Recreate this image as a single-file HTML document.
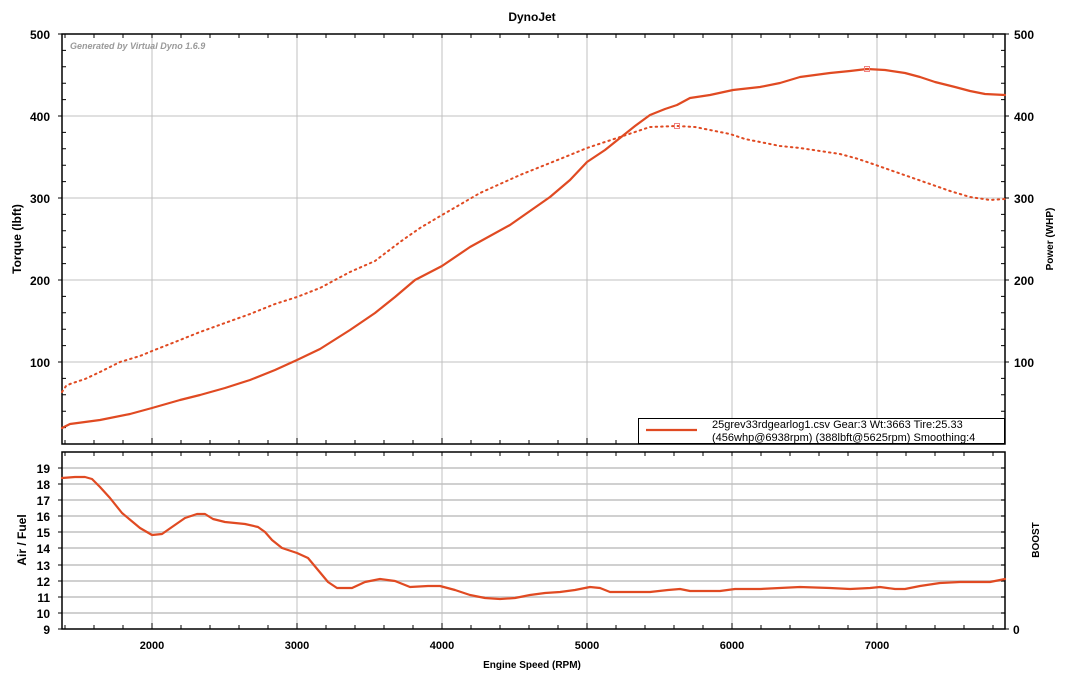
<!DOCTYPE html>
<html><head><meta charset="utf-8"><style>
body{margin:0;background:#fff;}
svg{display:block;font-family:"Liberation Sans",Arial,sans-serif;}
</style></head><body>
<svg width="1065" height="678" xmlns="http://www.w3.org/2000/svg">
<rect width="1065" height="678" fill="#fff"/>
<text x="532" y="21" text-anchor="middle" font-size="12" font-weight="bold">DynoJet</text>
<g stroke="#c0c0c0" stroke-width="1">
<line x1="152" y1="34" x2="152" y2="444"/><line x1="297" y1="34" x2="297" y2="444"/>
<line x1="442" y1="34" x2="442" y2="444"/><line x1="587" y1="34" x2="587" y2="444"/>
<line x1="732" y1="34" x2="732" y2="444"/><line x1="877" y1="34" x2="877" y2="444"/>
<line x1="62" y1="116" x2="1005" y2="116"/><line x1="62" y1="198" x2="1005" y2="198"/>
<line x1="62" y1="280" x2="1005" y2="280"/><line x1="62" y1="362" x2="1005" y2="362"/>
</g>
<g stroke="#d0d0d0" stroke-width="2">
<line x1="62" y1="468" x2="1005" y2="468"/><line x1="62" y1="484" x2="1005" y2="484"/>
<line x1="62" y1="500" x2="1005" y2="500"/><line x1="62" y1="516" x2="1005" y2="516"/>
<line x1="62" y1="532" x2="1005" y2="532"/><line x1="62" y1="548" x2="1005" y2="548"/>
<line x1="62" y1="565" x2="1005" y2="565"/><line x1="62" y1="581" x2="1005" y2="581"/>
<line x1="62" y1="597" x2="1005" y2="597"/><line x1="62" y1="613" x2="1005" y2="613"/>
</g>
<g stroke="#c0c0c0" stroke-width="1">
<line x1="152" y1="452" x2="152" y2="629"/><line x1="297" y1="452" x2="297" y2="629"/>
<line x1="442" y1="452" x2="442" y2="629"/><line x1="587" y1="452" x2="587" y2="629"/>
<line x1="732" y1="452" x2="732" y2="629"/><line x1="877" y1="452" x2="877" y2="629"/>
</g>
<text x="70" y="49" font-size="9" font-style="italic" font-weight="bold" fill="#999">Generated by Virtual Dyno 1.6.9</text>
<g stroke="#000" stroke-width="1.5" fill="none">
<rect x="62" y="34" width="943" height="410"/>
<rect x="62" y="452" width="943" height="177"/>
</g>
<g stroke="#000" stroke-width="1">
<path d="M62 50.4h4M62 66.8h4M62 83.2h4M62 99.6h4M62 132.4h4M62 148.8h4M62 165.2h4M62 181.6h4M62 214.4h4M62 230.8h4M62 247.2h4M62 263.6h4M62 296.4h4M62 312.8h4M62 329.2h4M62 345.6h4M62 378.4h4M62 394.8h4M62 411.2h4M62 427.6h4"/>
<path d="M1005 50.4h-4M1005 66.8h-4M1005 83.2h-4M1005 99.6h-4M1005 132.4h-4M1005 148.8h-4M1005 165.2h-4M1005 181.6h-4M1005 214.4h-4M1005 230.8h-4M1005 247.2h-4M1005 263.6h-4M1005 296.4h-4M1005 312.8h-4M1005 329.2h-4M1005 345.6h-4M1005 378.4h-4M1005 394.8h-4M1005 411.2h-4M1005 427.6h-4"/>
<path d="M58 34h4M58 116h4M58 198h4M58 280h4M58 362h4M1005 34h4M1005 116h4M1005 198h4M1005 280h4M1005 362h4"/>
<path d="M58 468h4M58 484h4M58 500h4M58 516h4M58 532h4M58 548h4M58 565h4M58 581h4M58 597h4M58 613h4M58 629h4M1005 629h4"/>
<path d="M1005 468h-4M1005 484h-4M1005 500h-4M1005 516h-4M1005 532h-4M1005 548h-4M1005 565h-4M1005 581h-4M1005 597h-4M1005 613h-4"/>
<path d="M65 444v-4M94 444v-4M123 444v-4M152 444v-6M181 444v-4M210 444v-4M239 444v-4M268 444v-4M297 444v-6M326 444v-4M355 444v-4M384 444v-4M413 444v-4M442 444v-6M471 444v-4M500 444v-4M529 444v-4M558 444v-4M587 444v-6M616 444v-4M645 444v-4M674 444v-4M703 444v-4M732 444v-6M761 444v-4M790 444v-4M819 444v-4M848 444v-4M877 444v-6M906 444v-4M935 444v-4M964 444v-4M993 444v-4"/>
<path d="M65 34v4M94 34v4M123 34v4M152 34v4M181 34v4M210 34v4M239 34v4M268 34v4M297 34v4M326 34v4M355 34v4M384 34v4M413 34v4M442 34v4M471 34v4M500 34v4M529 34v4M558 34v4M587 34v4M616 34v4M645 34v4M674 34v4M703 34v4M732 34v4M761 34v4M790 34v4M819 34v4M848 34v4M877 34v4M906 34v4M935 34v4M964 34v4M993 34v4"/>
<path d="M65 629v-4M94 629v-4M123 629v-4M152 629v-6M181 629v-4M210 629v-4M239 629v-4M268 629v-4M297 629v-6M326 629v-4M355 629v-4M384 629v-4M413 629v-4M442 629v-6M471 629v-4M500 629v-4M529 629v-4M558 629v-4M587 629v-6M616 629v-4M645 629v-4M674 629v-4M703 629v-4M732 629v-6M761 629v-4M790 629v-4M819 629v-4M848 629v-4M877 629v-6M906 629v-4M935 629v-4M964 629v-4M993 629v-4"/>
<path d="M65 452v4M94 452v4M123 452v4M152 452v4M181 452v4M210 452v4M239 452v4M268 452v4M297 452v4M326 452v4M355 452v4M384 452v4M413 452v4M442 452v4M471 452v4M500 452v4M529 452v4M558 452v4M587 452v4M616 452v4M645 452v4M674 452v4M703 452v4M732 452v4M761 452v4M790 452v4M819 452v4M848 452v4M877 452v4M906 452v4M935 452v4M964 452v4M993 452v4"/>
</g>
<g font-size="12" font-weight="bold" text-anchor="end">
<text x="50" y="39">500</text><text x="50" y="121">400</text><text x="50" y="203">300</text><text x="50" y="285">200</text><text x="50" y="367">100</text>
</g>
<g font-size="12" font-weight="bold" text-anchor="start">
<text x="1014" y="39">500</text><text x="1014" y="121">400</text><text x="1014" y="203">300</text><text x="1014" y="285">200</text><text x="1014" y="367">100</text>
<text x="1013" y="634">0</text>
</g>
<g font-size="12" font-weight="bold" text-anchor="end">
<text x="50" y="473">19</text><text x="50" y="489">18</text><text x="50" y="505">17</text><text x="50" y="521">16</text><text x="50" y="537">15</text><text x="50" y="553">14</text><text x="50" y="570">13</text><text x="50" y="586">12</text><text x="50" y="602">11</text><text x="50" y="618">10</text><text x="50" y="634">9</text>
</g>
<g font-size="11" font-weight="bold" text-anchor="middle">
<text x="152" y="649">2000</text><text x="297" y="649">3000</text><text x="442" y="649">4000</text><text x="587" y="649">5000</text><text x="732" y="649">6000</text><text x="877" y="649">7000</text>
<text x="532" y="668" font-size="10">Engine Speed (RPM)</text>
</g>
<text transform="translate(21,239) rotate(-90)" text-anchor="middle" font-size="12" font-weight="bold">Torque (lbft)</text>
<text transform="translate(26,540) rotate(-90)" text-anchor="middle" font-size="12" font-weight="bold">Air / Fuel</text>
<text transform="translate(1053,239) rotate(-90)" text-anchor="middle" font-size="10" font-weight="bold">Power (WHP)</text>
<text transform="translate(1039,540) rotate(-90)" text-anchor="middle" font-size="10" font-weight="bold">BOOST</text>
<g fill="none" stroke="#e04a22" stroke-linejoin="round" stroke-linecap="round">
<polyline stroke-width="2.2" points="62,428 66,426 70,424 100,420 130,414 152,408 180,400 200,395 225,388 250,380 275,370 297,360 320,349 350,330 375,313 395,297 415,280 442,266 470,247 510,225 550,197 570,180 587,162 605,150 620,138 635,126 650,115 665,109 677,105 690,98 710,95 733,90 760,87 780,83 800,77 830,73 850,71 867,69 885,70 905,73 920,77 935,82 955,87 970,91 985,94 1005,95"/>
<polyline stroke-width="2" stroke-dasharray="1.5,4" points="62,392 66,386 70,384 85,379 100,372 120,362 140,356 152,351 175,342 200,332 225,323 250,314 275,304 297,297 320,288 350,272 375,261 400,242 420,228 442,215 480,193 520,175 560,159 587,148 620,137 650,127 677,126 695,127 715,131 730,134 745,139 760,142 780,146 800,148 820,151 840,154 855,158 870,163 890,170 910,177 930,184 950,191 970,197 990,200 1005,199"/>
<polyline stroke-width="2.2" points="62,478 75,477 85,477 92,479 100,487 110,498 122,513 140,528 152,535 162,534 172,527 185,518 197,514 205,514 213,519 225,522 245,524 258,527 265,532 272,540 282,548 297,553 308,558 318,570 328,582 337,588 352,588 365,582 380,579 395,581 410,587 428,586 440,586 455,590 470,595 485,598 500,599 515,598 530,595 545,593 560,592 575,590 590,587 600,588 610,592 625,592 650,592 668,590 680,589 690,591 720,591 735,589 760,589 800,587 830,588 850,589 870,588 880,587 895,589 905,589 920,586 940,583 960,582 990,582 1005,579"/>
</g>
<rect x="674.5" y="123.5" width="5" height="5" fill="none" stroke="#f08080" stroke-width="1"/>
<rect x="864.5" y="66.5" width="5" height="5" fill="none" stroke="#f08080" stroke-width="1"/>
<rect x="638.5" y="418.5" width="366" height="25" fill="#fff" stroke="#000" stroke-width="1"/>
<line x1="646" y1="430" x2="697" y2="430" stroke="#e04a22" stroke-width="2.2"/>
<text x="712" y="428" font-size="11">25grev33rdgearlog1.csv Gear:3 Wt:3663 Tire:25.33</text>
<text x="712" y="441" font-size="11">(456whp@6938rpm) (388lbft@5625rpm) Smoothing:4</text>
</svg>
</body></html>
